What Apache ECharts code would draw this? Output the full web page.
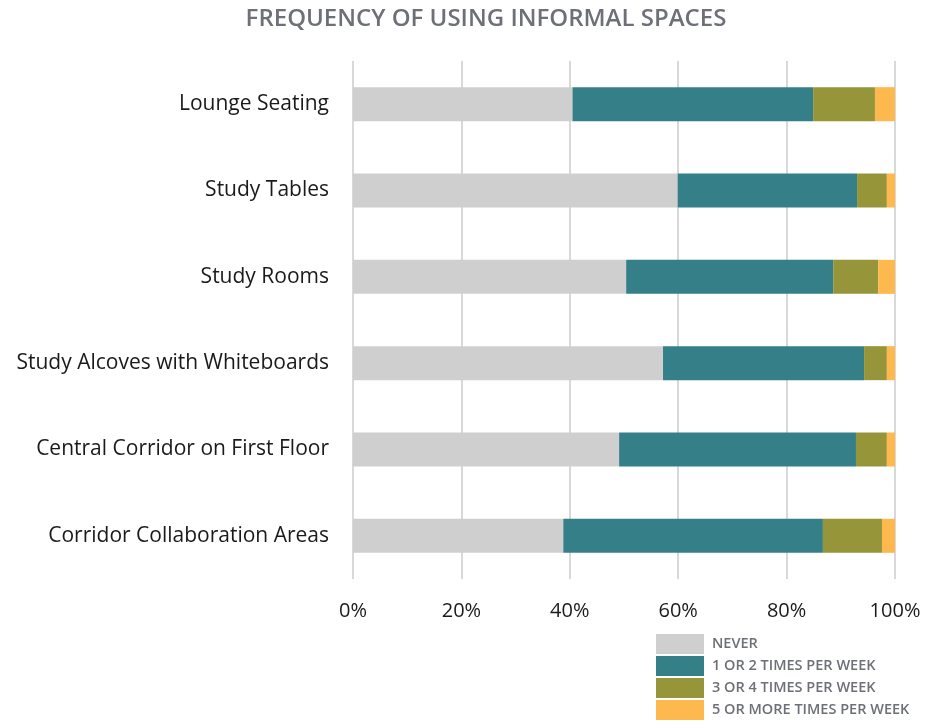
<!DOCTYPE html>
<html>
<head>
<meta charset="utf-8">
<script src="https://cdn.jsdelivr.net/npm/echarts@6/dist/echarts.min.js"></script>
<style>
  html, body { margin: 0; padding: 0; background: #fff; }
  #chart { width: 940px; height: 721px; }
</style>
</head>
<body>
<div id="chart"></div>
<script>
const categories = [
  'Lounge Seating',
  'Study Tables',
  'Study Rooms',
  'Study Alcoves with Whiteboards',
  'Central Corridor on First Floor',
  'Corridor Collaboration Areas'
]
const seriesNames = ['NEVER', '1 OR 2 TIMES PER WEEK', '3 OR 4 TIMES PER WEEK', '5 OR MORE TIMES PER WEEK']
const never = [40.5, 59.9, 50.4, 57.2, 49.1, 38.8]
const oneOrTwo = [44.4, 33.1, 38.2, 37.1, 43.7, 47.9]
const threeOrFour = [11.4, 5.5, 8.3, 4.2, 5.7, 10.9]
const fiveOrMore = [3.7, 1.5, 3.1, 1.5, 1.5, 2.4]
const colors = ['#d0cfcf', '#357f88', '#969539', '#fdb94e']

const chart = echarts.init(document.getElementById('chart'))

const values = [never, oneOrTwo, threeOrFour, fiveOrMore]

chart.setOption({
  animation: false,
  title: {
    text: 'FREQUENCY OF USING INFORMAL SPACES',
    left: 481,
    textAlign: 'center',
    top: 2,
    textStyle: { fontFamily: 'Open Sans', fontSize: 24, fontWeight: 600, color: '#6d7076' }
  },
  legend: {
    data: seriesNames,
    orient: 'vertical',
    left: 656,
    top: 634,
    padding: 0,
    itemWidth: 48,
    itemHeight: 20,
    itemGap: 2,
    icon: 'rect',
    textStyle: { fontFamily: 'Open Sans', fontSize: 14.5, fontWeight: 600, color: '#6d7076', padding: [0, 0, 0, 3] }
  },
  grid: { left: 353, right: 45, top: 61, bottom: 142, containLabel: false },
  xAxis: {
    type: 'value',
    min: 0,
    max: 100,
    interval: 20,
    axisLine: { show: false },
    axisTick: { show: false },
    splitLine: { lineStyle: { color: '#d9d9d9', width: 2 } },
    axisLabel: {
      formatter: '{value}%',
      fontFamily: 'Open Sans',
      fontSize: 20,
      color: '#1a1a1a',
      margin: 22
    }
  },
  yAxis: {
    type: 'category',
    data: categories,
    inverse: true,
    axisLine: { show: false },
    axisTick: { show: false },
    axisLabel: { fontFamily: 'Open Sans', fontSize: 21, color: '#1a1a1a', margin: 24, padding: [4, 0, 0, 0] }
  },
  series: seriesNames.map((name, i) => ({
    name,
    type: 'bar',
    stack: 'total',
    barWidth: 34,
    data: values[i],
    itemStyle: { color: colors[i] }
  }))
})
</script>
</body>
</html>
